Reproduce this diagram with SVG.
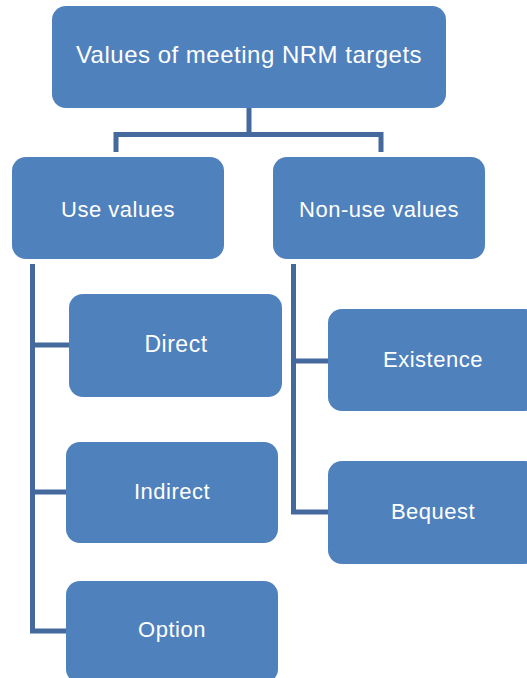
<svg xmlns="http://www.w3.org/2000/svg" width="527" height="678" viewBox="0 0 527 678">
<style>
.box{fill:#4F81BD;}
.lbl{font-family:"Liberation Sans",Arial,sans-serif;font-size:22px;fill:#FFFFFF;text-anchor:middle;letter-spacing:0.5px;}
.big{font-size:24px;}
.mid{font-size:23px;}
.con{fill:none;stroke:#44699D;stroke-width:5;stroke-linejoin:miter;}
</style>
<rect width="527" height="678" fill="#FFFFFF"/>
<g id="connectors">
<path class="con" d="M249,108 V134.5 M116,152 V134.5 H381 V152"/>
<path class="con" d="M32.5,264 V631 H66 M32.5,345 H69 M32.5,492 H66"/>
<path class="con" d="M293.5,264 V512 H328 M293.5,361 H328"/>
</g>
<g id="n-root">
<rect class="box" x="52" y="6" width="394" height="102" rx="14"/>
<text class="lbl big" x="249" y="63">Values of meeting NRM targets</text>
</g>
<g id="n-use">
<rect class="box" x="12" y="157" width="212" height="102" rx="14"/>
<text class="lbl" x="118" y="217">Use values</text>
</g>
<g id="n-nonuse">
<rect class="box" x="273" y="157" width="212" height="102" rx="14"/>
<text class="lbl" x="379" y="217">Non-use values</text>
</g>
<g id="n-direct">
<rect class="box" x="69" y="294" width="213" height="103" rx="14"/>
<text class="lbl mid" x="176" y="352">Direct</text>
</g>
<g id="n-indirect">
<rect class="box" x="66" y="442" width="212" height="101" rx="14"/>
<text class="lbl" x="172" y="499">Indirect</text>
</g>
<g id="n-option">
<rect class="box" x="66" y="581" width="212" height="102" rx="14"/>
<text class="lbl" x="172" y="637">Option</text>
</g>
<g id="n-existence">
<rect class="box" x="328" y="309" width="211" height="102" rx="14"/>
<text class="lbl" x="433" y="367">Existence</text>
</g>
<g id="n-bequest">
<rect class="box" x="328" y="461" width="211" height="103" rx="14"/>
<text class="lbl" x="433" y="519">Bequest</text>
</g>
</svg>
